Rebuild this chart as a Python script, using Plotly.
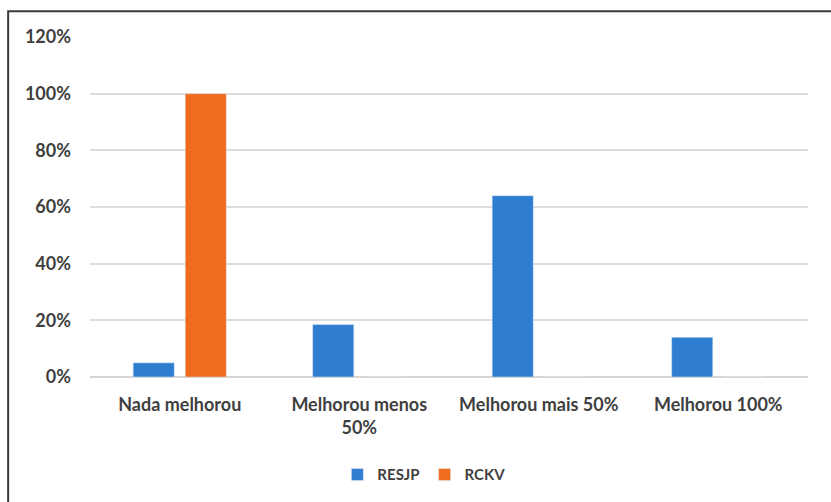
import plotly.graph_objects as go

categories = ["Nada melhorou", "Melhorou menos<br>50%", "Melhorou mais 50%", "Melhorou 100%"]
resjp = [0.05, 0.185, 0.64, 0.14]
rckv = [1.00, 0.0, 0.0, 0.0]
y_ticks = [0, 0.2, 0.4, 0.6, 0.8, 1.0, 1.2]

text_color = "#3f3f3f"
font_family = "Lato, 'Open Sans', sans-serif"

fig = go.Figure()
fig.add_trace(go.Bar(name="RESJP", x=categories, y=resjp, marker_color="#2E7DD1"))
fig.add_trace(go.Bar(name="RCKV", x=categories, y=rckv, marker_color="#EE6C1F"))

# outer frame of the chart area (top and left edges visible)
fig.add_shape(type="rect", xref="paper", yref="paper",
              x0=-0.114, x1=1.2, y0=-0.5, y1=1.076,
              line=dict(color="#3a3a3a", width=2), layer="below")

fig.update_layout(
    width=831, height=502,
    margin=dict(l=90, r=23, t=37, b=124),
    paper_bgcolor="white", plot_bgcolor="white",
    barmode="group", bargap=0.42, bargroupgap=0.21,
    font=dict(family=font_family, color=text_color, size=18),
    showlegend=True,
    legend=dict(orientation="h", x=0.465, xanchor="center", y=-0.284, yanchor="middle",
                font=dict(size=15, color=text_color, weight="bold"),
                itemwidth=30, traceorder="normal"),
)
fig.update_xaxes(showgrid=False, showline=False, ticks="", ticklabelstandoff=15,
                 tickfont=dict(size=18, color=text_color, weight="bold"))
fig.update_yaxes(range=[0, 1.2], tickvals=y_ticks, tickformat=".0%",
                 showgrid=True, gridcolor="#e0dcd8", gridwidth=1.5,
                 zeroline=True, zerolinecolor="#d8d4d0", zerolinewidth=1.5,
                 showline=False, ticklabelstandoff=18,
                 tickfont=dict(size=18, color=text_color, weight="bold"))

fig.write_html("out.html")
